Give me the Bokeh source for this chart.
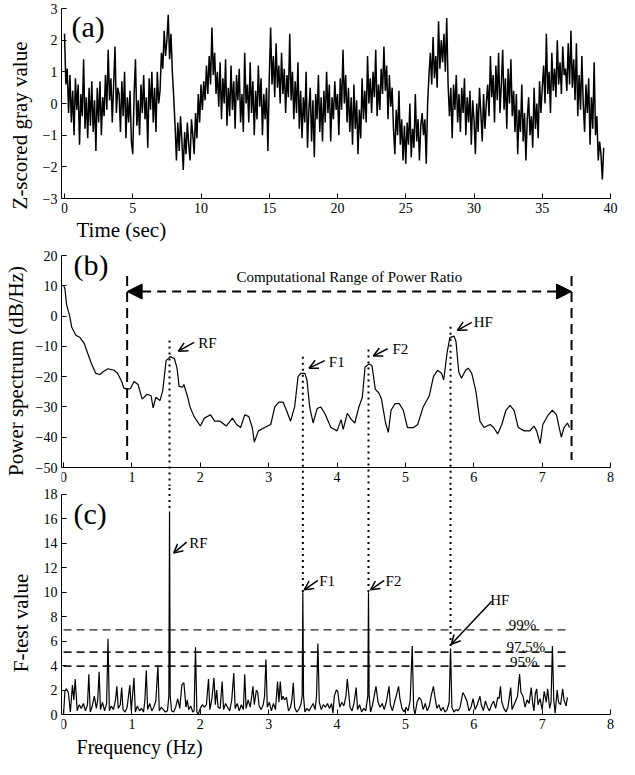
from bokeh.plotting import figure
from bokeh.layouts import column
from bokeh.models import Range1d, FixedTicker, Arrow, OpenHead, NormalHead, Label
from bokeh.embed import file_html
from bokeh.resources import INLINE

FONT = "Liberation Serif"

# ---------------- data ----------------
# (a) z-scored gray value, sampled every 0.1 s
a_dt = 0.1
a_values = [
    2.2, 0.6, 1.1, -0.3, 0.9, -0.6, 0.4, -1.0, 0.8, -0.2,
    0.6, -1.3, 0.3, -0.4, 1.4, -0.8, 0.2, -1.1, 0.5, -0.7,
    0.7, -0.9, 0.1, -1.5, 0.5, -0.6, 0.7, -1.0, 0.2, -0.4,
    0.9, -0.2, 1.7, 0.1, 0.8, -0.6, 0.6, 1.8, -0.3, 0.5,
    0.3, -0.9, 0.7, -0.4, 1.0, -1.1, 0.2, -0.6, 0.4, -1.2,
    -1.6, 0.3, 1.4, -0.7, 0.1, -1.0, 0.6, -0.3, 0.9, -0.5,
    0.2, -1.4, 0.8, -0.2, 1.0, -0.6, 0.5, -0.9, 1.0, 0.0,
    0.4, 1.6, 1.1, 2.3, 1.5, 2.0, 2.8, 1.4, 2.2, 1.0,
    0.2, -0.7, -1.8, -0.6, -1.5, -0.4, -1.2, -2.1, -0.9, -1.6,
    -0.6, -1.3, -1.8, -0.5, -1.0, -1.6, -0.3, -1.1, 0.3, -0.6,
    0.6, -0.2, 0.7, 0.1, 1.2, 0.3, 1.5, 0.6, 2.4, 0.9,
    1.6, 0.3, 1.0, -0.1, 1.3, -0.5, 0.8, 0.0, 1.4, -0.7,
    0.5, -0.4, 1.2, -0.2, 0.7, -0.8, 0.9, 0.1, 1.1, -0.6,
    0.3, -0.9, 1.6, 0.0, 0.6, -0.6, 1.3, -0.3, 0.7, -1.0,
    0.4, -0.5, 1.2, -0.1, 0.8, -1.0, 0.3, -0.5, 0.5, -1.5,
    0.8, 2.4, 0.6, 1.5, 0.2, 1.9, 0.5, 1.2, 0.0, 1.6,
    0.3, 1.1, -0.3, 0.9, 0.2, 2.2, 0.1, 1.0, -0.5, 0.7,
    -0.3, 1.3, -0.8, 0.4, -1.1, 0.2, -0.6, 1.0, -1.4, -0.2,
    0.5, -1.2, 0.1, -1.7, 0.3, -0.5, 0.9, -0.9, 0.2, -1.2,
    0.4, -0.6, 1.0, -0.3, 0.6, -1.2, 0.2, -0.5, 0.7, -0.2,
    0.3, -1.0, 0.8, -0.2, 1.7, 0.0, 0.9, -0.6, 0.5, -0.9,
    0.2, -1.3, 0.6, -0.8, 0.1, -1.6, -0.2, -1.1, 0.8, -0.5,
    0.4, -0.6, 1.5, 0.0, 0.8, -0.3, 1.0, 0.2, 1.7, -0.4,
    0.6, -0.2, 1.1, 0.3, 1.8, 0.4, 1.2, -0.5, 0.9, -0.1,
    0.5, -0.8, -1.6, -0.2, -1.0, 0.4, -1.3, -0.5, -1.8, -0.7,
    -1.9, -0.6, -1.3, 0.0, -1.7, -0.8, -1.4, 0.3, -1.2, -0.5,
    -1.8, -0.7, -0.3, -1.0, -0.5, -1.9, 0.0, 0.9, 1.6, 0.6,
    2.1, 0.8, 1.5, 0.5, 2.6, 1.1, 2.0, 1.3, 2.2, 1.0,
    2.7, 0.6, -0.4, 0.5, -1.1, 0.6, -0.2, 0.9, -0.6, 0.3,
    -0.9, 0.5, -0.3, 0.8, -1.0, 0.2, -0.6, 0.4, -1.3, 0.1,
    -0.5, -1.6, 0.0, -0.9, 0.5, -0.3, -1.2, 0.3, -0.8, 0.0,
    0.6, -0.4, 1.5, 0.2, 0.9, -0.6, 1.2, 0.1, 1.6, -0.3,
    0.6, 1.7, -0.2, 0.8, -0.8, 1.1, 0.0, 1.4, -0.4, 0.4,
    -0.9, 0.3, -1.6, -0.2, -0.9, 0.6, -1.2, -0.3, -1.8, -0.5,
    0.2, -1.0, -0.4, -1.4, 0.5, -0.8, 0.0, -1.1, 0.7, -0.3,
    0.5, 1.2, 0.0, 2.2, 0.3, 1.0, -0.3, 1.6, 0.4, 1.1,
    0.2, 2.0, 0.6, 1.3, 0.3, 1.8, 0.9, 1.1, 0.4, 1.9,
    0.6, 2.3, 0.5, 1.4, 0.1, 1.9, -0.4, 0.9, -0.2, 1.5,
    0.0, -0.9, 0.6, -0.3, 0.8, -1.3, 0.2, -0.8, 1.3, -1.0,
    -0.4, -1.8, -1.2, -1.6, -2.4, -1.4,
]
a_time = [round(i * a_dt, 2) for i in range(len(a_values))]
a_xticks = [0, 5, 10, 15, 20, 25, 30, 35, 40]
a_yticks = [-3, -2, -1, 0, 1, 2, 3]

# (b) power spectrum (dB/Hz)
b_freq = [0.0, 0.02, 0.045, 0.09, 0.12, 0.18, 0.24, 0.30, 0.35, 0.41, 0.47, 0.53, 0.59, 0.65,
          0.74, 0.79, 0.85, 0.88, 0.93, 0.98, 1.03, 1.09, 1.15, 1.22, 1.28, 1.31, 1.35, 1.41,
          1.45, 1.50, 1.56, 1.62, 1.66, 1.69, 1.74, 1.76, 1.81, 1.85, 1.91, 2.00, 2.06, 2.15,
          2.21, 2.29, 2.38, 2.47, 2.53, 2.59, 2.65, 2.71, 2.76, 2.79, 2.85, 2.94, 3.03, 3.09,
          3.15, 3.21, 3.26, 3.32, 3.38, 3.43, 3.47, 3.53, 3.56, 3.60, 3.65, 3.71, 3.76, 3.82,
          3.91, 4.00, 4.06, 4.09, 4.15, 4.21, 4.26, 4.32, 4.37, 4.41, 4.47, 4.51, 4.56, 4.61,
          4.65, 4.71, 4.75, 4.79, 4.85, 4.91, 4.97, 5.03, 5.12, 5.18, 5.26, 5.35, 5.41, 5.47,
          5.53, 5.56, 5.61, 5.65, 5.71, 5.74, 5.78, 5.82, 5.88, 5.92, 5.97, 6.03, 6.09, 6.15,
          6.24, 6.29, 6.35, 6.41, 6.47, 6.53, 6.59, 6.65, 6.74, 6.82, 6.88, 6.92, 6.97, 7.01,
          7.09, 7.15, 7.21, 7.24, 7.28, 7.32, 7.37, 7.40]
b_power = [10.2, 9.0, 3.7, 0.0, -3.7, -6.3, -7.1, -8.9, -12.1, -15.8, -18.9, -19.3, -18.2, -17.4,
           -17.9, -18.9, -21.6, -23.7, -24.2, -23.9, -21.6, -22.6, -27.4, -25.8, -26.3, -30.3, -26.8, -27.9,
           -24.7, -14.7, -13.4, -14.0, -17.2, -23.2, -23.5, -22.6, -26.3, -30.0, -33.2, -36.3, -33.7, -32.6,
           -34.7, -34.7, -36.3, -33.7, -35.8, -36.8, -32.6, -33.2, -36.8, -41.6, -37.9, -36.8, -35.8, -30.0,
           -28.4, -28.4, -31.1, -34.7, -30.0, -20.0, -18.9, -18.9, -21.1, -30.0, -35.3, -30.5, -30.0, -32.1,
           -36.8, -37.9, -34.2, -37.4, -32.1, -34.2, -35.3, -30.0, -26.8, -16.8, -15.8, -16.3, -24.2, -25.3,
           -27.4, -35.3, -38.4, -31.1, -28.9, -28.9, -31.1, -36.8, -36.8, -35.8, -30.0, -26.3, -20.0, -17.9,
           -18.9, -21.1, -12.1, -7.1, -6.6, -8.4, -18.4, -20.5, -17.9, -17.2, -18.9, -24.7, -34.7, -36.8,
           -35.8, -36.8, -38.9, -35.8, -31.1, -29.5, -31.1, -36.8, -37.9, -37.9, -36.3, -37.9, -42.1, -35.8,
           -32.6, -31.1, -32.6, -35.8, -40.0, -36.8, -35.3, -36.8]
b_yticks = [-50, -40, -30, -20, -10, 0, 10, 20]
f_xticks = [0, 1, 2, 3, 4, 5, 6, 7, 8]

# (c) F-test values
c_freq = [0.00, 0.02, 0.04, 0.07, 0.10, 0.13, 0.15, 0.17, 0.20, 0.23, 0.26, 0.29, 0.32, 0.35,
          0.37, 0.39, 0.42, 0.45, 0.48, 0.50, 0.52, 0.54, 0.57, 0.60, 0.63, 0.65, 0.67, 0.70,
          0.73, 0.76, 0.78, 0.80, 0.83, 0.85, 0.87, 0.90, 0.93, 0.97, 0.99, 1.03, 1.05, 1.08,
          1.11, 1.14, 1.17, 1.19, 1.21, 1.23, 1.26, 1.29, 1.32, 1.35, 1.38, 1.40, 1.43, 1.46,
          1.49, 1.52, 1.54, 1.55, 1.56, 1.58, 1.61, 1.64, 1.67, 1.70, 1.73, 1.76, 1.79, 1.81,
          1.83, 1.86, 1.89, 1.91, 1.93, 1.95, 1.97, 2.00, 2.03, 2.06, 2.09, 2.12, 2.14, 2.17,
          2.20, 2.22, 2.24, 2.26, 2.29, 2.32, 2.34, 2.37, 2.40, 2.43, 2.46, 2.49, 2.51, 2.54,
          2.57, 2.60, 2.63, 2.65, 2.67, 2.70, 2.73, 2.75, 2.77, 2.79, 2.82, 2.84, 2.86, 2.89,
          2.92, 2.94, 2.96, 2.98, 3.01, 3.04, 3.07, 3.10, 3.13, 3.15, 3.17, 3.19, 3.21, 3.23,
          3.26, 3.29, 3.32, 3.34, 3.36, 3.38, 3.41, 3.44, 3.47, 3.49, 3.50, 3.51, 3.53, 3.56,
          3.59, 3.62, 3.65, 3.68, 3.70, 3.72, 3.74, 3.77, 3.80, 3.83, 3.86, 3.89, 3.92, 3.94,
          3.96, 3.99, 4.01, 4.04, 4.07, 4.10, 4.13, 4.15, 4.17, 4.19, 4.22, 4.25, 4.28, 4.30,
          4.33, 4.36, 4.39, 4.42, 4.45, 4.46, 4.47, 4.49, 4.52, 4.55, 4.57, 4.60, 4.63, 4.66,
          4.69, 4.72, 4.76, 4.78, 4.81, 4.84, 4.87, 4.90, 4.92, 4.95, 4.98, 5.01, 5.04, 5.07,
          5.10, 5.12, 5.14, 5.17, 5.20, 5.23, 5.26, 5.29, 5.32, 5.35, 5.38, 5.41, 5.43, 5.46,
          5.49, 5.52, 5.55, 5.58, 5.61, 5.64, 5.66, 5.68, 5.71, 5.74, 5.77, 5.80, 5.82, 5.84,
          5.87, 5.90, 5.93, 5.96, 5.99, 6.02, 6.05, 6.09, 6.11, 6.14, 6.17, 6.20, 6.23, 6.26,
          6.29, 6.32, 6.35, 6.37, 6.39, 6.41, 6.44, 6.47, 6.50, 6.54, 6.56, 6.59, 6.62, 6.64,
          6.67, 6.69, 6.72, 6.75, 6.78, 6.81, 6.84, 6.86, 6.88, 6.90, 6.92, 6.94, 6.97, 7.00,
          7.03, 7.06, 7.08, 7.11, 7.13, 7.15, 7.17, 7.19, 7.22, 7.24, 7.27, 7.30, 7.32, 7.35,
          7.37]
c_ftest = [0.0, 1.9, 2.1, 1.8, 0.2, 2.4, 1.2, 2.9, 0.3, 0.8, 0.5, 0.9, 0.3, 0.8,
           3.3, 0.2, 0.7, 1.5, 0.5, 1.2, 3.5, 0.4, 1.0, 0.3, 0.9, 6.2, 0.3, 0.7,
           0.4, 1.2, 2.3, 0.5, 0.8, 2.2, 0.4, 0.2, 0.6, 2.4, 0.3, 3.0, 0.2, 0.7,
           0.3, 0.5, 0.2, 1.2, 3.6, 0.4, 0.9, 0.3, 0.6, 1.1, 4.0, 0.3, 0.6, 0.4,
           0.2, 0.3, 1.5, 16.6, 1.5, 0.3, 0.2, 0.6, 1.3, 0.5, 2.4, 2.6, 0.6, 1.2,
           0.4, 0.7, 0.2, 0.3, 5.5, 0.2, 0.0, 0.5, 0.8, 0.6, 0.8, 2.9, 0.4, 1.3,
           3.0, 0.8, 2.0, 0.6, 0.5, 2.7, 0.4, 0.9, 0.6, 0.3, 1.2, 3.4, 0.5, 0.9,
           0.3, 0.8, 0.4, 3.3, 0.5, 1.2, 0.6, 1.4, 2.3, 0.8, 2.0, 1.8, 0.7, 0.4,
           0.8, 1.5, 4.5, 0.6, 1.0, 0.3, 0.9, 0.4, 2.7, 1.0, 2.7, 1.2, 1.5, 1.2,
           1.4, 0.3, 0.6, 1.2, 2.6, 0.6, 0.2, 0.4, 0.8, 1.5, 10.0, 1.5, 0.2, 0.5,
           0.3, 0.6, 0.9, 0.4, 1.5, 5.8, 1.0, 0.4, 0.8, 0.6, 0.9, 0.5, 0.9, 0.1,
           1.5, 2.0, 1.9, 0.6, 1.0, 0.7, 1.5, 2.9, 1.8, 0.6, 0.3, 1.0, 2.2, 0.4,
           0.8, 0.2, 0.5, 0.3, 1.5, 10.0, 1.5, 0.2, 0.8, 1.7, 2.3, 1.0, 0.6, 0.9,
           0.4, 1.0, 2.3, 0.8, 0.3, 1.0, 1.6, 2.3, 1.3, 0.5, 0.2, 0.6, 0.3, 1.2,
           5.6, 0.6, 0.0, 1.0, 1.4, 1.2, 0.4, 0.9, 0.3, 0.7, 1.6, 2.3, 1.5, 0.5,
           0.8, 0.3, 0.6, 0.2, 0.4, 1.0, 5.4, 0.6, 0.2, 0.4, 0.3, 0.6, 1.2, 1.8,
           1.5, 1.1, 0.3, 0.6, 1.3, 0.4, 0.8, 1.5, 0.8, 0.3, 1.1, 0.6, 0.3, 0.8,
           1.1, 0.5, 1.4, 1.3, 2.3, 1.0, 0.5, 0.2, 0.6, 2.2, 0.4, 0.8, 1.2, 1.5,
           3.3, 1.8, 1.5, 0.6, 1.2, 0.9, 2.2, 1.0, 0.3, 1.7, 2.1, 0.8, 1.3, 0.4,
           1.9, 1.0, 2.1, 0.5, 1.0, 5.6, 1.2, 0.1, 2.0, 1.0, 0.8, 2.1, 1.2, 0.7,
           1.4]
c_yticks = [0, 2, 4, 6, 8, 10, 12, 14, 16, 18]

peak_names = ["RF", "F1", "F2", "HF"]
peak_freq = [1.55, 3.50, 4.46, 5.66]
peak_b_top = [-8.1, -13.4, -11.0, -3.5]
peak_c_top = [16.6, 10.0, 10.0, 5.4]

range_start, range_end = 0.93, 7.43
range_label = "Computational Range of Power Ratio"

sig_names = ["99%", "97.5%", "95%"]
sig_levels = [6.92, 5.11, 3.95]
sig_end = 7.39


# ---------------- helpers ----------------
def style(p, xticks, yticks, xbounds, ybounds, xloc, ylabel, ylabel_standoff):
    p.xaxis.ticker = FixedTicker(ticks=xticks)
    p.yaxis.ticker = FixedTicker(ticks=yticks)
    for ax in (p.xaxis[0], p.yaxis[0]):
        ax.major_tick_in = 5
        ax.major_tick_out = 0
        ax.minor_tick_line_color = None
        ax.axis_line_color = "black"
        ax.axis_line_width = 1
        ax.major_tick_line_color = "black"
        ax.major_label_text_font = FONT
        ax.major_label_text_font_size = "14px"
        ax.major_label_text_color = "black"
        ax.major_label_standoff = 4
        ax.axis_label_text_font = FONT
        ax.axis_label_text_font_size = "21px"
        ax.axis_label_text_font_style = "normal"
        ax.axis_label_text_color = "black"
    p.xaxis.fixed_location = xloc
    p.xaxis.bounds = xbounds
    p.yaxis.bounds = ybounds
    p.yaxis.axis_label = ylabel
    p.yaxis.axis_label_standoff = ylabel_standoff
    p.yaxis.major_label_overrides = {v: "\u2212" + str(-v) for v in yticks if v < 0}
    p.grid.visible = False
    p.outline_line_color = None
    p.background_fill_color = "white"
    p.border_fill_color = "white"


def text(p, x, y, s, size="15px", align="left"):
    p.add_layout(Label(x=x, y=y, text=s, text_font=FONT, text_font_size=size,
                       text_baseline="middle", text_align=align, text_color="black"))


def pointer(p, x0, y0, x1, y1):
    p.add_layout(Arrow(end=OpenHead(size=9, line_width=1.5, line_color="black"),
                       x_start=x0, y_start=y0, x_end=x1, y_end=y1,
                       line_width=1.5, line_color="black"))


def dotted(p, x, y0, y1):
    p.add_layout(Arrow(end=None, x_start=x, y_start=y0, x_end=x, y_end=y1,
                       line_width=2, line_color="black", line_dash="2 4"))


common = dict(output_backend="svg", toolbar_location=None, frame_width=559,
              min_border_left=52, min_border_right=8, min_border_bottom=0)

# ---------------- (a) ----------------
pa = figure(x_range=Range1d(-0.22, 40.73), y_range=Range1d(-4.389, 3), frame_height=234,
            min_border_top=8, **common)
style(pa, a_xticks, a_yticks, (-0.22, 40), (-3, 3), -3, "Z-scored gray value", 8)
pa.line(a_time, a_values, line_color="black", line_width=1.5)
text(pa, 0.51, 2.43, "(a)", size="30px")
text(pa, 0.88, -3.98, "Time (sec)", size="21px")

# ---------------- (b) ----------------
pb = figure(x_range=Range1d(-0.03, 8.146), y_range=Range1d(-56.27, 20), frame_height=231,
            min_border_top=13, **common)
style(pb, f_xticks, b_yticks, (-0.03, 8), (-50, 20), -50, "Power spectrum (dB/Hz)", 5)
pb.line(b_freq, b_power, line_color="black", line_width=1.2)
pb.segment(x0=[range_start, range_end], y0=[13.2, 13.2], x1=[range_start, range_end],
           y1=[-47.5, -47.5], line_color="black", line_width=2, line_dash="10 6")
pb.add_layout(Arrow(start=NormalHead(size=15, fill_color="black", line_color="black"),
                    end=NormalHead(size=15, fill_color="black", line_color="black"),
                    x_start=range_start, y_start=8.1, x_end=range_end, y_end=8.1,
                    line_width=2, line_color="black", line_dash="9 6"))
text(pb, (range_start + range_end) / 2, 12.8, range_label, size="15px", align="center")
for f, top in zip(peak_freq, peak_b_top):
    dotted(pb, f, top, -60)
b_ptr = [(1.91, -8.7, 1.68, -11.6, 1.97, -8.9),
         (3.82, -14.7, 3.59, -17.2, 3.88, -15.0),
         (4.74, -10.8, 4.53, -13.2, 4.81, -11.0),
         (5.97, -2.1, 5.76, -4.7, 6.00, -2.1)]
for name, (x0, y0, x1, y1, tx, ty) in zip(peak_names, b_ptr):
    pointer(pb, x0, y0, x1, y1)
    text(pb, tx, ty, name)
text(pb, 0.145, 17.0, "(b)", size="30px")

# ---------------- (c) ----------------
pc = figure(x_range=Range1d(-0.03, 8.146), y_range=Range1d(-3.68, 18.65), frame_height=273,
            min_border_top=0, **common)
style(pc, f_xticks, c_yticks, (-0.03, 8), (0, 18), 0, "F-test value", 8)
pc.segment(x0=[0] * len(sig_levels), y0=sig_levels, x1=[sig_end] * len(sig_levels), y1=sig_levels,
           line_color="#222222", line_width=[1.2, 1.8, 1.8], line_dash="8 5")
pc.line(c_freq, c_ftest, line_color="black", line_width=1.2)
for f, top in zip(peak_freq, peak_c_top):
    dotted(pc, f, 19.5, top)
c_ptr = [(1.80, 14.1, 1.61, 13.2, 1.84, 14.0),
         (3.72, 10.97, 3.52, 10.2, 3.74, 10.9),
         (4.69, 10.97, 4.49, 10.2, 4.71, 10.9),
         (6.26, 9.24, 5.67, 5.75, 6.24, 9.4)]
for name, (x0, y0, x1, y1, tx, ty) in zip(peak_names, c_ptr):
    pointer(pc, x0, y0, x1, y1)
    text(pc, tx, ty, name)
for name, lvl, tx in zip(sig_names, sig_levels, [6.51, 6.48, 6.53]):
    text(pc, tx, lvl + 0.38, name)
text(pc, 0.145, 16.45, "(c)", size="30px")
text(pc, 0.19, -2.62, "Frequency (Hz)", size="20px")

layout = column(pa, pb, pc, spacing=0)
open("out.html", "w").write(file_html(layout, INLINE))
